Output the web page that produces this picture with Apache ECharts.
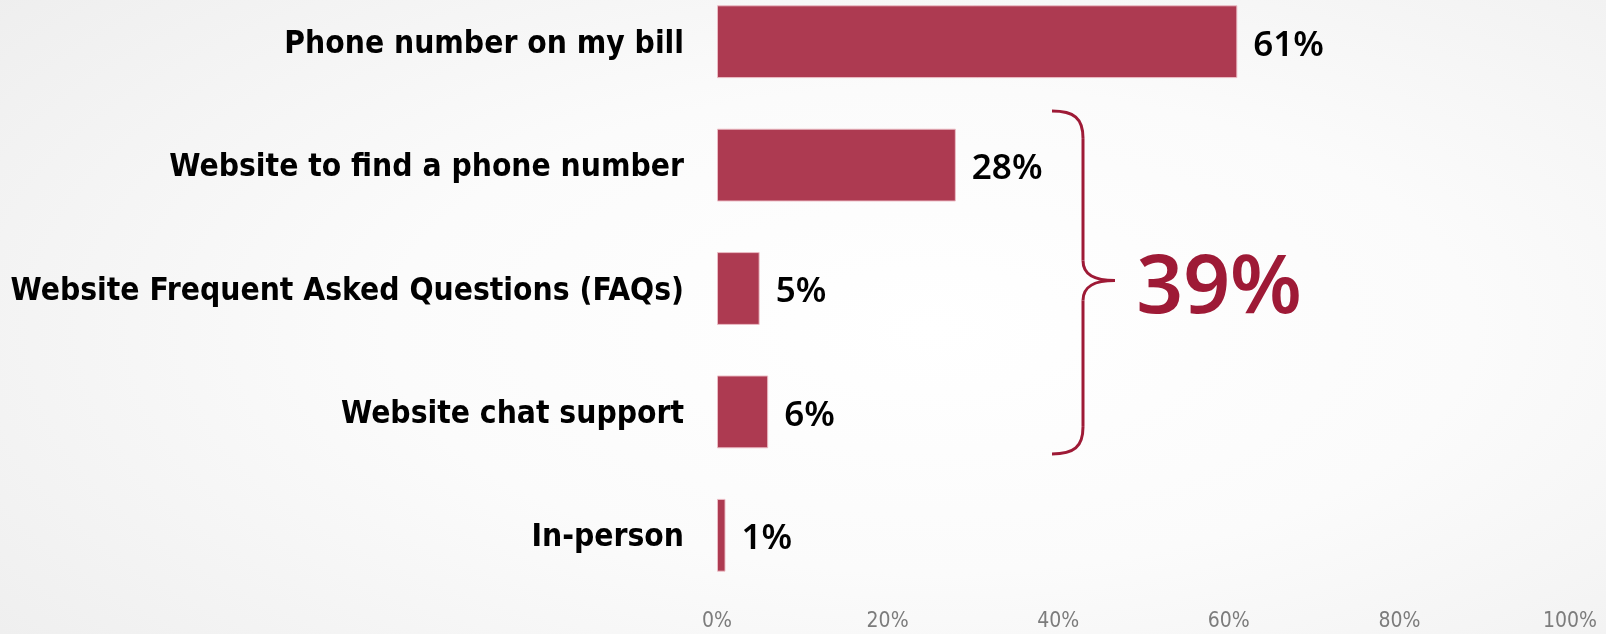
<!DOCTYPE html>
<html>
<head>
<meta charset="utf-8">
<title>Contact channels</title>
<script src="https://cdn.jsdelivr.net/npm/echarts@6/dist/echarts.min.js"></script>
<style>
  html, body { margin: 0; padding: 0; }
  body {
    width: 1606px; height: 634px; overflow: hidden;
    background: radial-gradient(ellipse 75% 85% at 58% 52%, #ffffff 0%, #fbfbfb 45%, #eeeeee 100%);
  }
  #chart { width: 1606px; height: 634px; }
</style>
</head>
<body>
<div id="chart"></div>
<script>
// Channels used to reach support, share of respondents (%)
const categories = [
  'Phone number on my bill',
  'Website to find a phone number',
  'Website Frequent Asked Questions (FAQs)',
  'Website chat support',
  'In-person'
];
const shares = [61, 28, 5, 6, 1];
const axisTicks = [0, 20, 40, 60, 80, 100];
// rows grouped under the brace (the website channels)
const groupedRows = [1, 2, 3];

const BAR = '#ad3a51';
const ACCENT = '#9e1a36';

const chart = echarts.init(document.getElementById('chart'), null, { renderer: 'canvas' });

chart.setOption({
  animation: false,
  backgroundColor: 'transparent',
  grid: { left: 717, right: 36, top: -20, bottom: 37, containLabel: false, outerBoundsMode: 'none' },
  xAxis: {
    type: 'value',
    min: axisTicks[0],
    max: axisTicks[axisTicks.length - 1],
    interval: axisTicks[1] - axisTicks[0],
    axisLine: { show: false },
    axisTick: { show: false },
    splitLine: { show: false },
    axisLabel: {
      formatter: '{value}%',
      color: '#7c7c7c',
      fontFamily: '"DejaVu Sans Condensed", "Liberation Sans", sans-serif',
      fontSize: 21,
      margin: 14
    }
  },
  yAxis: {
    type: 'category',
    data: categories,
    inverse: true,
    axisLine: { show: false },
    axisTick: { show: false },
    axisLabel: {
      color: '#000000',
      fontFamily: '"DejaVu Sans Condensed", "Liberation Sans", sans-serif',
      fontWeight: 'bold',
      fontSize: 31.5,
      verticalAlign: 'top',
      lineHeight: 6,
      margin: 33
    }
  },
  series: [{
    type: 'bar',
    data: shares,
    barWidth: '59%',
    itemStyle: { color: BAR, borderColor: 'rgba(236, 190, 198, 0.95)', borderWidth: 1 },
    label: {
      show: true,
      position: 'right',
      distance: 16,
      offset: [0, 4],
      formatter: '{c}%',
      color: '#000000',
      fontFamily: '"Noto Sans", sans-serif',
      fontWeight: 600,
      fontSize: 35
    }
  }]
});

// Brace and group total beside the website rows
function drawBrace() {
  const yFirst = chart.convertToPixel({ yAxisIndex: 0 }, categories[groupedRows[0]]);
  const yLast = chart.convertToPixel({ yAxisIndex: 0 }, categories[groupedRows[groupedRows.length - 1]]);
  const top = yFirst - 54;
  const bottom = yLast + 42;
  const mid = (top + bottom) / 2 - 2;
  const x0 = 1052, xs = 1083, xt = 1115;
  const stroke = { stroke: ACCENT, lineWidth: 3, fill: null };
  const curve = (x1, y1, c1x, c1y, c2x, c2y, x2, y2) => ({
    type: 'bezierCurve', silent: true, style: stroke,
    shape: { x1: x1, y1: y1, cpx1: c1x, cpy1: c1y, cpx2: c2x, cpy2: c2y, x2: x2, y2: y2 }
  });
  const line = (x1, y1, x2, y2) => ({
    type: 'line', silent: true, style: stroke,
    shape: { x1: x1, y1: y1, x2: x2, y2: y2 }
  });
  const total = groupedRows.reduce((s, i) => s + shares[i], 0);
  chart.setOption({
    graphic: [
      curve(x0, top, x0 + 22, top, xs, top + 7, xs, top + 27),
      line(xs, top + 27, xs, mid - 20),
      curve(xs, mid - 20, xs, mid - 5, xs + 12, mid, xt, mid),
      curve(xt, mid, xs + 12, mid, xs, mid + 5, xs, mid + 20),
      line(xs, mid + 20, xs, bottom - 27),
      curve(xs, bottom - 27, xs, bottom - 7, x0 + 22, bottom, x0, bottom),
      {
        type: 'text',
        x: 1219,
        y: mid + 9,
        silent: true,
        style: {
          text: total + '%',
          fill: ACCENT,
          font: '600 82px "Noto Sans", sans-serif',
          textAlign: 'center',
          textVerticalAlign: 'middle'
        }
      }
    ]
  });
}
drawBrace();
</script>
</body>
</html>
